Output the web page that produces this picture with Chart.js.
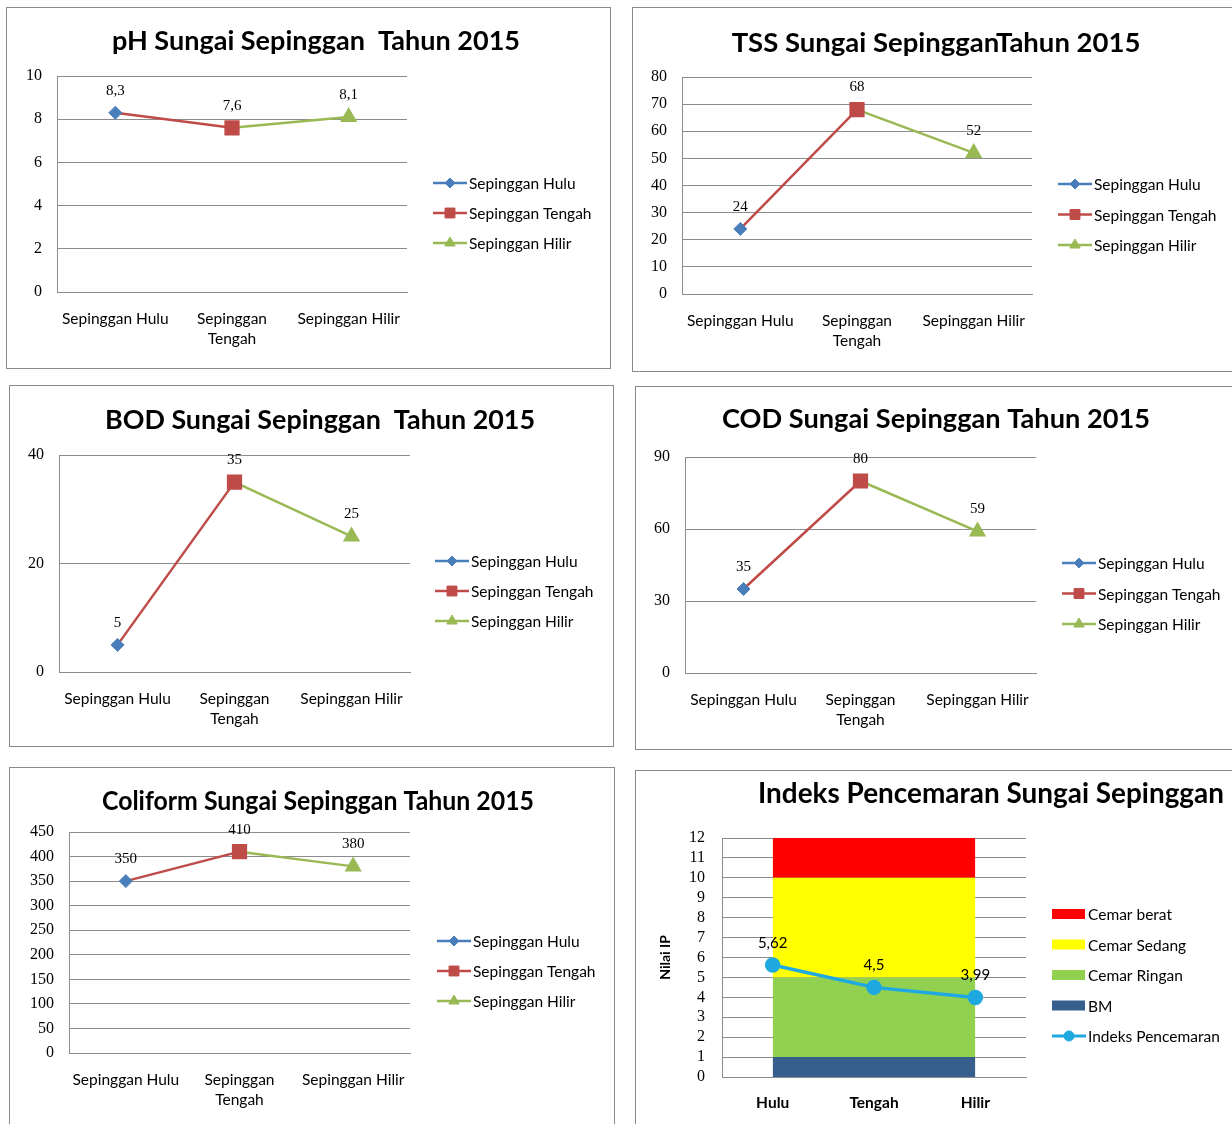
<!DOCTYPE html>
<html>
<head>
<meta charset="utf-8">
<script src="https://cdn.jsdelivr.net/npm/chart.js@4.4.1/dist/chart.umd.min.js"></script>
<style>
  html, body { margin: 0; padding: 0; background: #fff; width: 1232px; height: 1124px; overflow: hidden; position: relative; }
  .frame { position: absolute; box-sizing: border-box; border: 1px solid #8a8a8a; background: #fff; }
  canvas { position: absolute; }
</style>
</head>
<body>
<script>
// ---- data ----
const stations = ['Sepinggan Hulu', 'Sepinggan Tengah', 'Sepinggan Hilir'];
const phValues = [8.3, 7.6, 8.1];
const tssValues = [24, 68, 52];
const bodValues = [5, 35, 25];
const codValues = [35, 80, 59];
const coliformValues = [350, 410, 380];

// y axes: [min, max, step]
const phAxis = [0, 10, 2];
const tssAxis = [0, 80, 10];
const bodAxis = [0, 40, 20];
const codAxis = [0, 90, 30];
const coliformAxis = [0, 450, 50];

const ipSites = ['Hulu', 'Tengah', 'Hilir'];
const ipValues = [5.62, 4.5, 3.99];
const ipAxis = [0, 12, 1];
// pollution-class bands, thickness of each band stacked from zero
const bandBM = [1, 1, 1];
const bandRingan = [4, 4, 4];
const bandSedang = [5, 5, 5];
const bandBerat = [2, 2, 2];

// ---- look ----
const BLUE = '#4A7EBB', RED = '#BE4B48', GREEN = '#98B954';
const GRID = '#8C8C8C';
const SERIF = '"Liberation Serif", "DejaVu Serif", serif';
const SANS = 'Lato, "Open Sans", sans-serif';
Chart.defaults.color = '#000';

// panel geometry on the page: frame [x, y, w, h], plot [l, t, r, b], title [cx, cy, width], legend [x, y, gap]
const panels = {
  ph:   { frame: [6, 7, 605, 362],   plot: [57, 76, 407, 292],    title: [316, 41, 408],  legend: [433, 183, 30] },
  tss:  { frame: [632, 7, 610, 365], plot: [682, 77, 1032, 294],  title: [936, 43, 409],  legend: [1058, 184, 30.5] },
  bod:  { frame: [9, 385, 605, 362], plot: [59, 455, 410, 672],   title: [320, 420, 430], legend: [435, 561, 30] },
  cod:  { frame: [635, 386, 610, 364], plot: [685, 457, 1036, 673], title: [936, 419, 428], legend: [1062, 563, 30.5] },
  coli: { frame: [9, 767, 606, 380], plot: [69, 832, 410, 1053],  title: [318, 801, 432], legend: [437, 941, 30] },
  ip:   { frame: [635, 770, 610, 380], plot: [722, 838, 1026, 1077], title: [991, 794, 466], legend: [1052, 914, 30.5] }
};

const fmt = v => String(v).replace('.', ',');

function mount(p) {
  const [x, y, w, h] = p.frame;
  const f = document.createElement('div');
  f.className = 'frame';
  Object.assign(f.style, { left: x + 'px', top: y + 'px', width: w + 'px', height: h + 'px' });
  document.body.appendChild(f);
  const c = document.createElement('canvas');
  c.width = w; c.height = h;
  Object.assign(c.style, { left: x + 'px', top: y + 'px', width: w + 'px', height: h + 'px' });
  document.body.appendChild(c);
  return c;
}

function drawMarker(ctx, style, r, x, y, color) {
  ctx.fillStyle = color;
  ctx.strokeStyle = color;
  ctx.lineWidth = 1;
  Chart.helpers.drawPoint(ctx, { pointStyle: style, radius: r, rotation: 0, borderWidth: 1 }, x, y);
}

// titles, side legend and value labels
const decor = {
  id: 'decor',
  afterDraw(chart, args, o) {
    const ctx = chart.ctx;
    const ox = o.frame[0], oy = o.frame[1];
    ctx.save();
    ctx.fillStyle = '#000';
    ctx.textAlign = 'center';
    ctx.textBaseline = 'middle';
    ctx.font = `bold ${o.titleSize}px ${SANS}`;
    ctx.fillText(o.titleText, o.title[0] - ox, o.title[1] - oy, o.title[2]);

    // value labels
    const xs = chart.scales.x, ys = chart.scales.y;
    ctx.font = o.labelFont;
    o.values.forEach((v, i) => {
      ctx.fillStyle = '#000';
      ctx.fillText(fmt(v), xs.getPixelForValue(i), ys.getPixelForValue(v) - o.labelOffset);
    });

    // legend
    const [lx, ly, gap] = o.legend;
    ctx.textAlign = 'left';
    o.legendItems.forEach((it, k) => {
      const x = lx - ox, y = ly - oy + k * gap;
      if (it.kind === 'box') {
        ctx.fillStyle = it.color;
        ctx.fillRect(x, y - 5, 33, 10);
      } else {
        ctx.strokeStyle = it.lineColor;
        ctx.lineWidth = it.lineWidth;
        ctx.beginPath();
        ctx.moveTo(x, y);
        ctx.lineTo(x + 34, y);
        ctx.stroke();
        drawMarker(ctx, it.pointStyle, it.radius, x + 17, y, it.color);
      }
      ctx.fillStyle = '#000';
      ctx.font = `15.5px ${SANS}`;
      ctx.fillText(it.label, x + 36, y + 1);
    });
    ctx.restore();
  }
};

// wrap long category names onto two lines
const measurer = document.createElement('canvas').getContext('2d');
function wrapLabel(text, font, maxW) {
  measurer.font = font;
  if (measurer.measureText(text).width <= maxW) return text;
  const i = text.lastIndexOf(' ');
  return i > 0 ? [text.slice(0, i), text.slice(i + 1)] : text;
}

function lineDatasets(values) {
  return [
    { label: stations[0], data: values.map((v, i) => i === 0 ? v : null), showLine: false,
      pointStyle: 'rectRot', pointRadius: 6.5, pointBackgroundColor: BLUE, pointBorderColor: BLUE, borderColor: BLUE },
    { label: stations[1], data: values.map((v, i) => i <= 1 ? v : null), borderColor: RED, borderWidth: 2.5,
      pointStyle: 'rect', pointRadius: values.map((v, i) => i === 1 ? 9 : 0), pointBackgroundColor: RED, pointBorderColor: RED },
    { label: stations[2], data: values.map((v, i) => i >= 1 ? v : null), borderColor: GREEN, borderWidth: 2.5,
      pointStyle: 'triangle', pointRadius: values.map((v, i) => i === 2 ? 7.5 : 0), pointBackgroundColor: GREEN, pointBorderColor: GREEN }
  ];
}

const lineLegend = [
  { label: stations[0], kind: 'line', color: BLUE, lineColor: BLUE, lineWidth: 2.5, pointStyle: 'rectRot', radius: 5 },
  { label: stations[1], kind: 'line', color: RED, lineColor: RED, lineWidth: 2.5, pointStyle: 'rect', radius: 7 },
  { label: stations[2], kind: 'line', color: GREEN, lineColor: GREEN, lineWidth: 2.5, pointStyle: 'triangle', radius: 6 }
];

function paddingFor(p) {
  return { left: 0, top: p.plot[1] - p.frame[1], right: p.frame[0] + p.frame[2] - p.plot[2], bottom: 0 };
}

function lineChart(p, titleText, values, axis) {
  const canvas = mount(p);
  const catFont = { family: SANS, size: 15.5, lineHeight: 1.3 };
  new Chart(canvas, {
    type: 'line',
    data: { labels: stations, datasets: lineDatasets(values) },
    options: {
      responsive: false, animation: false, events: [],
      layout: { padding: paddingFor(p) },
      scales: {
        x: {
          offset: true,
          grid: { display: false, drawTicks: false },
          border: { display: true, color: GRID, width: 1 },
          ticks: {
            font: catFont, color: '#000', padding: 17, maxRotation: 0, autoSkip: false,
            callback(v) { return wrapLabel(this.getLabelForValue(v), `15.5px ${SANS}`, 112); }
          },
          afterFit(s) { s.height = p.frame[1] + p.frame[3] - p.plot[3]; }
        },
        y: {
          min: axis[0], max: axis[1],
          grid: { color: GRID, drawTicks: false },
          border: { display: true, color: GRID, width: 1 },
          ticks: { stepSize: axis[2], autoSkip: false, maxTicksLimit: 50, font: { family: SERIF, size: 16 }, color: '#000', padding: 15 },
          afterFit(s) { s.width = p.plot[0] - p.frame[0]; }
        }
      },
      plugins: {
        legend: { display: false },
        tooltip: { enabled: false },
        decor: {
          frame: p.frame, title: p.title, titleText, titleSize: 27.5,
          values, labelFont: `15px ${SERIF}`, labelOffset: 22,
          legend: p.legend, legendItems: lineLegend
        }
      }
    },
    plugins: [decor]
  });
}

lineChart(panels.ph, 'pH Sungai Sepinggan  Tahun 2015', phValues, phAxis);
lineChart(panels.tss, 'TSS Sungai SepingganTahun 2015', tssValues, tssAxis);
lineChart(panels.bod, 'BOD Sungai Sepinggan  Tahun 2015', bodValues, bodAxis);
lineChart(panels.cod, 'COD Sungai Sepinggan Tahun 2015', codValues, codAxis);
lineChart(panels.coli, 'Coliform Sungai Sepinggan Tahun 2015', coliformValues, coliformAxis);

// pollution index over the class bands
(function () {
  const p = panels.ip;
  const canvas = mount(p);
  const C = { bm: '#375F8E', ringan: '#92D050', sedang: '#FFFF00', berat: '#FF0000', ip: '#1FA9E1' };
  const band = (label, data, color, fill) => ({
    label, data, stack: 'band', fill, order: 1, backgroundColor: color,
    borderColor: 'rgba(0,0,0,0)', borderWidth: 1, pointRadius: 0
  });
  new Chart(canvas, {
    type: 'line',
    data: {
      labels: ipSites,
      datasets: [
        band('BM', bandBM, C.bm, 'origin'),
        band('Cemar Ringan', bandRingan, C.ringan, '-1'),
        band('Cemar Sedang', bandSedang, C.sedang, '-1'),
        band('Cemar berat', bandBerat, C.berat, '-1'),
        { label: 'Indeks Pencemaran', data: ipValues, stack: 'ip', order: 0, fill: false,
          borderColor: C.ip, borderWidth: 3.5, pointStyle: 'circle', pointRadius: 6,
          pointBackgroundColor: C.ip, pointBorderColor: C.ip }
      ]
    },
    options: {
      responsive: false, animation: false, events: [],
      layout: { padding: paddingFor(p) },
      scales: {
        x: {
          offset: true,
          grid: { display: false, drawTicks: false },
          border: { display: true, color: GRID, width: 1 },
          ticks: { font: { family: SANS, size: 15.5, weight: 'bold', lineHeight: 1.3 }, color: '#000', padding: 16, maxRotation: 0 },
          afterFit(s) { s.height = p.frame[1] + p.frame[3] - p.plot[3]; }
        },
        y: {
          stacked: true, min: ipAxis[0], max: ipAxis[1],
          grid: { color: GRID, drawTicks: false },
          border: { display: true, color: GRID, width: 1 },
          ticks: { stepSize: ipAxis[2], autoSkip: false, maxTicksLimit: 50, font: { family: SERIF, size: 16 }, color: '#000', padding: 17 },
          title: { display: true, text: 'Nilai IP', font: { family: SANS, size: 14, weight: 'bold' }, color: '#000', padding: { top: 22 } },
          afterFit(s) { s.width = p.plot[0] - p.frame[0]; }
        }
      },
      plugins: {
        legend: { display: false },
        tooltip: { enabled: false },
        decor: {
          frame: p.frame, title: p.title, titleText: 'Indeks Pencemaran Sungai Sepinggan', titleSize: 28,
          values: ipValues, labelFont: `15px ${SANS}`, labelOffset: 22,
          legend: p.legend,
          legendItems: [
            { label: 'Cemar berat', kind: 'box', color: C.berat },
            { label: 'Cemar Sedang', kind: 'box', color: C.sedang },
            { label: 'Cemar Ringan', kind: 'box', color: C.ringan },
            { label: 'BM', kind: 'box', color: C.bm },
            { label: 'Indeks Pencemaran', kind: 'line', color: C.ip, lineColor: C.ip, lineWidth: 3, pointStyle: 'circle', radius: 5 }
          ]
        }
      }
    },
    plugins: [decor]
  });
})();
</script>
</body>
</html>
